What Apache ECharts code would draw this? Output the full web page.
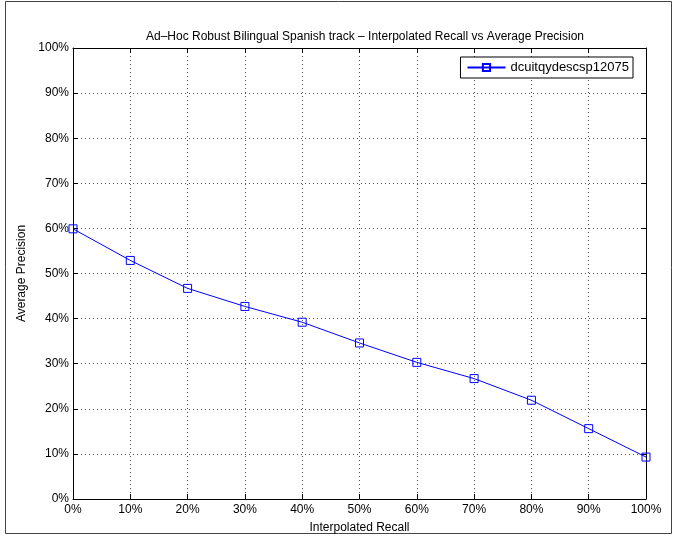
<!DOCTYPE html>
<html><head><meta charset="utf-8">
<script src="https://cdn.jsdelivr.net/npm/echarts@6/dist/echarts.min.js"></script>
<style>html,body{margin:0;padding:0;background:#fff}#c{width:673px;height:536px}</style>
</head><body><div id="c"></div>
<script>
const recall = [0, 10, 20, 30, 40, 50, 60, 70, 80, 90, 100];
const precision = [59.9, 52.9, 46.7, 42.7, 39.2, 34.6, 30.3, 26.7, 21.9, 15.6, 9.3];
const seriesName = 'dcuitqydescsp12075';
const titleText = 'Ad\u2013Hoc Robust Bilingual Spanish track \u2013 Interpolated Recall vs Average Precision';
const ff = 'Liberation Sans, Arial, sans-serif';

const chart = echarts.init(document.getElementById('c'));
const grid = {left: 73, right: 27, top: 48, bottom: 37, containLabel: false, outerBoundsMode: 'none'};
const tickCommon = {show: true, inside: true, length: 5, lineStyle: {color: '#000', width: 1}};
const gridLine = {show: true, lineStyle: {color: '#555', type: [1, 3], width: 1}};
chart.setOption({
  animation: false,
  backgroundColor: '#fff',
  title: {text: titleText, left: 360, top: 26, textAlign: 'center',
    textStyle: {fontFamily: ff, fontSize: 12, fontWeight: 'normal', color: '#000'}},
  legend: {
    data: [seriesName], right: 40, top: 57, orient: 'vertical',
    backgroundColor: '#fff', borderColor: '#000', borderWidth: 1, borderRadius: 0,
    padding: [4, 4, 4, 6], itemWidth: 38, itemHeight: 9, itemGap: 0,
    textStyle: {fontFamily: ff, fontSize: 13, color: '#000'}
  },
  grid: grid,
  xAxis: [{
    type: 'value', min: 0, max: 100, interval: 10,
    name: 'Interpolated Recall', nameLocation: 'middle', nameGap: 23,
    nameTextStyle: {fontFamily: ff, fontSize: 12, color: '#000'},
    axisLine: {show: true, onZero: false, lineStyle: {color: '#000', width: 1}},
    axisTick: tickCommon,
    axisLabel: {formatter: '{value}%', fontFamily: ff, fontSize: 12, color: '#000', margin: 5},
    splitLine: gridLine
  }, {
    type: 'value', min: 0, max: 100, interval: 10, position: 'top',
    axisLine: {show: true, onZero: false, lineStyle: {color: '#000', width: 1}},
    axisTick: tickCommon, axisLabel: {show: false}, splitLine: {show: false}
  }],
  yAxis: [{
    type: 'value', min: 0, max: 100, interval: 10,
    name: 'Average Precision', nameLocation: 'middle', nameGap: 38,
    nameTextStyle: {fontFamily: ff, fontSize: 12, color: '#000'},
    axisLine: {show: true, onZero: false, lineStyle: {color: '#000', width: 1}},
    axisTick: tickCommon,
    axisLabel: {formatter: '{value}%', fontFamily: ff, fontSize: 12, color: '#000', margin: 4},
    splitLine: gridLine
  }, {
    type: 'value', min: 0, max: 100, interval: 10, position: 'right',
    axisLine: {show: true, onZero: false, lineStyle: {color: '#000', width: 1}},
    axisTick: tickCommon, axisLabel: {show: false}, splitLine: {show: false}
  }],
  graphic: [{type: 'rect', shape: {x: 5.5, y: 1.5, width: 666, height: 532},
    style: {fill: 'none', stroke: '#444', lineWidth: 1}, silent: true, z: -1}],
  series: [{
    name: seriesName, type: 'line',
    data: recall.map((r, i) => [r, precision[i]]),
    symbol: 'rect', symbolSize: 8,
    lineStyle: {color: '#0000ff', width: 1},
    itemStyle: {color: 'rgba(0,0,0,0)', borderColor: '#0000ff', borderWidth: 1},
    clip: false
  }]
});
</script></body></html>
